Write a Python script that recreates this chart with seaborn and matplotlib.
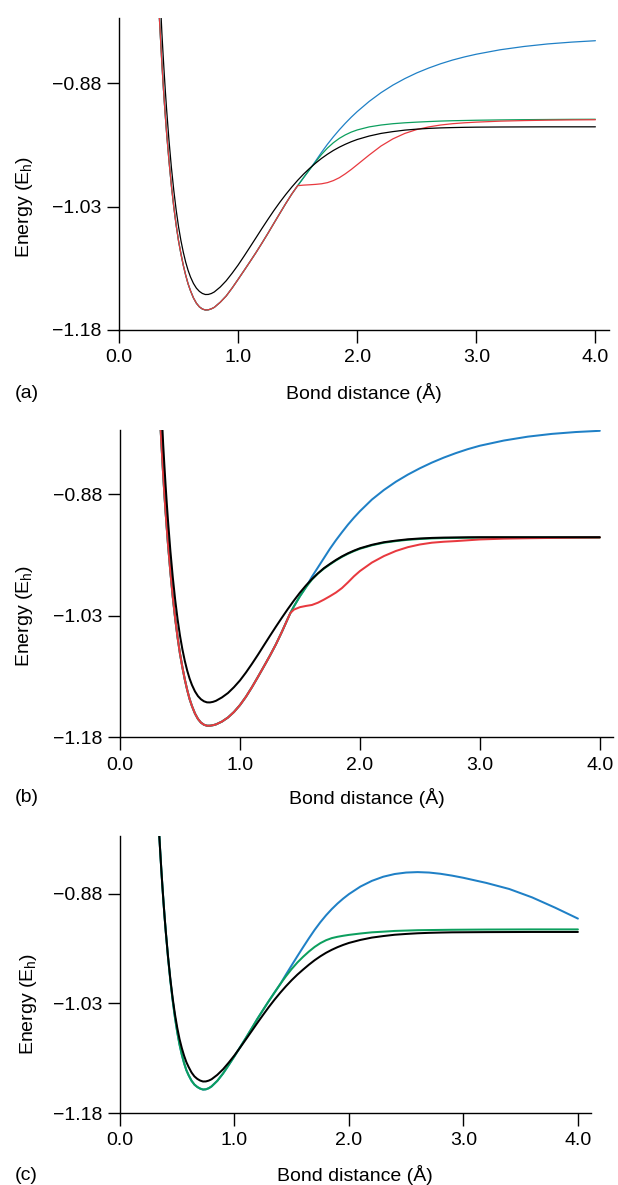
import numpy as np
import pandas as pd
import matplotlib
matplotlib.use("Agg")
import matplotlib.pyplot as plt
from matplotlib.ticker import FixedLocator, FuncFormatter
import seaborn as sns

# ---------------- data ----------------
# bond distances (Å) shared by panels (a) and (c)
R_grid = [0.33, 0.35, 0.36, 0.37, 0.38, 0.39, 0.40, 0.42, 0.44, 0.46, 0.48, 0.50, 0.52, 0.54,
          0.56, 0.58, 0.60, 0.625, 0.65, 0.675, 0.70, 0.725, 0.75, 0.775, 0.80, 0.85, 0.90,
          0.95, 1.00, 1.05, 1.10, 1.15, 1.20, 1.25, 1.30, 1.35, 1.40, 1.45, 1.50, 1.55, 1.60,
          1.65, 1.70, 1.75, 1.80, 1.85, 1.90, 1.95, 2.00, 2.10, 2.20, 2.30, 2.40, 2.50, 2.60,
          2.70, 2.80, 2.90, 3.00, 3.20, 3.40, 3.60, 3.80, 4.00]
# panel (b) grid has one extra point at 1.42 Å (kink of the red curve)
R_grid_b = R_grid[:37] + [1.42] + R_grid[37:]

# ---- panel (a)
black_a = [-0.7240, -0.7886, -0.8188, -0.8447, -0.8689, -0.8915, -0.9125, -0.9502, -0.9826,
           -1.0104, -1.0343, -1.0546, -1.0714, -1.0856, -1.0976, -1.1075, -1.1155, -1.1234,
           -1.1292, -1.1331, -1.1356, -1.1369, -1.1368, -1.1357, -1.1338, -1.1278, -1.1202,
           -1.1110, -1.1011, -1.0903, -1.0792, -1.0680, -1.0567, -1.0457, -1.0350, -1.0249,
           -1.0154, -1.0065, -0.9982, -0.9906, -0.9837, -0.9774, -0.9716, -0.9665, -0.9619,
           -0.9579, -0.9544, -0.9513, -0.9486, -0.9444, -0.9412, -0.9390, -0.9372, -0.9360,
           -0.9351, -0.9345, -0.9341, -0.9338, -0.9336, -0.9334, -0.9333, -0.9332, -0.9332,
           -0.9332]
green_a = [-0.7770, -0.8300, -0.8560, -0.8800, -0.9020, -0.9220, -0.9413, -0.9750, -1.0048,
           -1.0305, -1.0527, -1.0719, -1.0875, -1.1015, -1.1135, -1.1239, -1.1322, -1.1410,
           -1.1475, -1.1519, -1.1545, -1.1557, -1.1555, -1.1543, -1.1525, -1.1463, -1.1387,
           -1.1290, -1.1185, -1.1078, -1.0970, -1.0860, -1.0745, -1.0627, -1.0505, -1.0384,
           -1.0264, -1.0150, -1.0047, -0.9949, -0.9852, -0.9760, -0.9668, -0.9590, -0.9525,
           -0.9472, -0.9430, -0.9396, -0.9370, -0.9333, -0.9310, -0.9294, -0.9283, -0.9275,
           -0.9268, -0.9262, -0.9258, -0.9255, -0.9252, -0.9248, -0.9245, -0.9243, -0.9241,
           -0.9240]
red_a_tail = [-1.0040, -1.0036, -1.0031, -1.0024, -1.0010, -0.9985, -0.9950, -0.9903, -0.9850,
              -0.9792, -0.9675, -0.9565, -0.9478, -0.9412, -0.9365, -0.9333, -0.9310, -0.9294,
              -0.9283, -0.9275, -0.9263, -0.9256, -0.9251, -0.9248, -0.9246]
red_a = green_a[:39] + red_a_tail            # follows green up to 1.50 Å
blue_a_tail = [-0.9749, -0.9643, -0.9544, -0.9453, -0.9368, -0.9289, -0.9215, -0.9147,
               -0.9024, -0.8917, -0.8825, -0.8746, -0.8677, -0.8618, -0.8566, -0.8521,
               -0.8483, -0.8450, -0.8396, -0.8356, -0.8325, -0.8303, -0.8286]
blue_a = green_a[:41] + blue_a_tail          # follows green up to 1.60 Å

# ---- panel (b)
black_b = black_a[:22] + [
    -1.1370, -1.1363, -1.1350, -1.1308, -1.1254, -1.1182, -1.1099, -1.1001, -1.0894, -1.0782,
    -1.0665, -1.0549, -1.0435, -1.0324, -1.0216, -1.0175, -1.0113, -1.0016, -0.9928, -0.9849,
    -0.9778, -0.9714, -0.9662, -0.9613, -0.9569, -0.9531, -0.9498, -0.9469, -0.9426, -0.9394,
    -0.9374, -0.9358, -0.9348, -0.9341, -0.9337, -0.9335, -0.9333, -0.9332, -0.9332, -0.9332,
    -0.9332, -0.9332, -0.9332]
red_b = [-0.7770, -0.8300, -0.8560, -0.8800, -0.9020, -0.9220, -0.9416, -0.9760, -1.0068,
         -1.0335, -1.0567, -1.0769, -1.0935, -1.1085, -1.1215, -1.1327, -1.1415, -1.1507,
         -1.1574, -1.1619, -1.1645, -1.1657, -1.1657, -1.1651, -1.1641, -1.1606, -1.1556,
         -1.1488, -1.1403, -1.1300, -1.1182, -1.1055, -1.0925, -1.0793, -1.0653, -1.0498,
         -1.0333, -1.0268, -1.0225, -1.0195, -1.0180, -1.0168, -1.0140, -1.0102, -1.0060,
         -1.0015, -0.9960, -0.9890, -0.9815, -0.9750, -0.9645, -0.9565, -0.9502, -0.9455,
         -0.9422, -0.9400, -0.9388, -0.9380, -0.9370, -0.9360, -0.9350, -0.9345, -0.9341,
         -0.9338, -0.9336]
green_b_tail = [-1.0185, -1.0060, -0.9950, -0.9855, -0.9780, -0.9720, -0.9668, -0.9619,
                -0.9575, -0.9537, -0.9504, -0.9475, -0.9432, -0.9400, -0.9380, -0.9364,
                -0.9354, -0.9347, -0.9343, -0.9341, -0.9339, -0.9338, -0.9337, -0.9337,
                -0.9337, -0.9337, -0.9337]
green_b = red_b[:38] + green_b_tail          # follows red up to 1.42 Å
blue_b_tail = [-0.9820, -0.9705, -0.9590, -0.9475, -0.9370, -0.9272, -0.9178, -0.9092,
               -0.9012, -0.8868, -0.8750, -0.8648, -0.8560, -0.8482, -0.8412, -0.8350,
               -0.8295, -0.8246, -0.8204, -0.8140, -0.8092, -0.8058, -0.8035, -0.8020]
blue_b = green_b[:41] + blue_b_tail          # follows green up to 1.55 Å

# ---- panel (c)
black_c = [-0.7650, -0.8188, -0.8447, -0.8689, -0.8915, -0.9125, -0.9318, -0.9668, -0.9969,
           -1.0228, -1.0448, -1.0633, -1.0788, -1.0912, -1.1017, -1.1105, -1.1172, -1.1246,
           -1.1299, -1.1333, -1.1356, -1.1369, -1.1368, -1.1357, -1.1338, -1.1278, -1.1202,
           -1.1110, -1.1011, -1.0903, -1.0792, -1.0680, -1.0567, -1.0457, -1.0350, -1.0249,
           -1.0154, -1.0065, -0.9982, -0.9906, -0.9837, -0.9771, -0.9710, -0.9656, -0.9608,
           -0.9567, -0.9531, -0.9500, -0.9473, -0.9432, -0.9400, -0.9379, -0.9361, -0.9350,
           -0.9341, -0.9335, -0.9331, -0.9328, -0.9327, -0.9325, -0.9324, -0.9323, -0.9323,
           -0.9323]
green_c = [-0.7650, -0.8188, -0.8447, -0.8689, -0.8915, -0.9125, -0.9323, -0.9678, -0.9989,
           -1.0258, -1.0493, -1.0693, -1.0863, -1.1002, -1.1119, -1.1215, -1.1285, -1.1359,
           -1.1411, -1.1444, -1.1466, -1.1479, -1.1476, -1.1461, -1.1436, -1.1360, -1.1260,
           -1.1143, -1.1023, -1.0898, -1.0772, -1.0643, -1.0512, -1.0389, -1.0268, -1.0151,
           -1.0036, -0.9928, -0.9829, -0.9740, -0.9662, -0.9591, -0.9528, -0.9476, -0.9436,
           -0.9407, -0.9389, -0.9375, -0.9363, -0.9344, -0.9328, -0.9319, -0.9309, -0.9304,
           -0.9299, -0.9297, -0.9295, -0.9293, -0.9292, -0.9290, -0.9289, -0.9288, -0.9288,
           -0.9288]
blue_c_tail = [-0.9905, -0.9778, -0.9653, -0.9530, -0.9410, -0.9295, -0.9190, -0.9095,
               -0.9010, -0.8934, -0.8866, -0.8805, -0.8702, -0.8624, -0.8567, -0.8530,
               -0.8510, -0.8504, -0.8510, -0.8527, -0.8552, -0.8582, -0.8652, -0.8735,
               -0.8850, -0.8990, -0.9140]
blue_c = green_c[:37] + blue_c_tail          # follows green up to 1.40 Å

x_ticks = [0.0, 1.0, 2.0, 3.0, 4.0]
y_ticks = [-1.18, -1.03, -0.88]
panel_tags = ["(a)", "(b)", "(c)"]
x_label = "Bond distance (Å)"
y_label = "Energy (E$_{\\mathrm{h}}$)"

colors = {"blue": "#1f80c6", "green": "#0c9f5e", "red": "#e8393f", "black": "#000000"}
order = ["blue", "green", "red", "black"]

# ---------------- style ----------------
sns.set_theme(style="ticks")
plt.rcParams["font.family"] = ["Liberation Sans", "DejaVu Sans"]
plt.rcParams["mathtext.fontset"] = "custom"
plt.rcParams["mathtext.rm"] = "Liberation Sans"
plt.rcParams["mathtext.it"] = "Liberation Sans:italic"

W, H = 618, 1185
fig = plt.figure(figsize=(W / 100, H / 100), dpi=100)
fig.patch.set_facecolor("white")

# pixel boxes: left, top, right, bottom
boxes = [(119, 18, 608.5, 330), (120, 430, 613, 737.3), (120, 836, 590.5, 1113)]
tag_y = [393, 798, 1175]
lws = [0.9, 1.45, 1.45]

panels = [
    (R_grid, {"blue": blue_a, "green": green_a, "red": red_a, "black": black_a}),
    (R_grid_b, {"blue": blue_b, "green": green_b, "red": red_b, "black": black_b}),
    (R_grid, {"blue": blue_c, "green": green_c, "black": black_c}),
]

xfmt = FuncFormatter(lambda v, p: f"{v:.1f}")
yfmt = FuncFormatter(lambda v, p: f"{v:.2f}".replace("-", "\u2212"))

for i, ((R, series), (l, t, r, b)) in enumerate(zip(panels, boxes)):
    ax = fig.add_axes([l / W, 1 - b / H, (r - l) / W, (b - t) / H])
    ax.set_facecolor("white")
    frames = []
    for name, vals in series.items():
        frames.append(pd.DataFrame({"R": R, "E": vals, "method": name}))
    df = pd.concat(frames, ignore_index=True)
    hue_order = [m for m in order if m in series]
    sns.lineplot(data=df, x="R", y="E", hue="method", hue_order=hue_order,
                 palette=colors, estimator=None, sort=False, legend=False,
                 linewidth=lws[i], ax=ax)
    ax.set_xlim(0, 4.11)
    ax.set_ylim(-1.18, -0.801)
    ax.xaxis.set_major_locator(FixedLocator(x_ticks))
    ax.yaxis.set_major_locator(FixedLocator(y_ticks))
    ax.xaxis.set_major_formatter(xfmt)
    ax.yaxis.set_major_formatter(yfmt)
    for s in ["top", "right"]:
        ax.spines[s].set_visible(False)
    for s in ["left", "bottom"]:
        ax.spines[s].set_color("black")
        ax.spines[s].set_linewidth(1.0)
    ax.tick_params(axis="x", direction="out", length=9, width=1.0, colors="black",
                   labelsize=14, pad=5)
    ax.tick_params(axis="y", direction="out", length=9, width=1.0, colors="black",
                   labelsize=14, pad=3.5)
    ax.set_xlabel(x_label, fontsize=14, color="black")
    ax.set_ylabel(y_label, fontsize=14, color="black")
    hpx = b - t
    ax.xaxis.set_label_coords(0.5, -(tag_y[i] - b) / hpx)
    ax.xaxis.label.set_va("center")
    ax.yaxis.set_label_coords(-0.172, 0.15 / 0.379)
    fig.text(15 / W, 1 - tag_y[i] / H, panel_tags[i], fontsize=14, ha="left", va="center",
             color="black")

fig.savefig("out.png", dpi=100, facecolor="white")
